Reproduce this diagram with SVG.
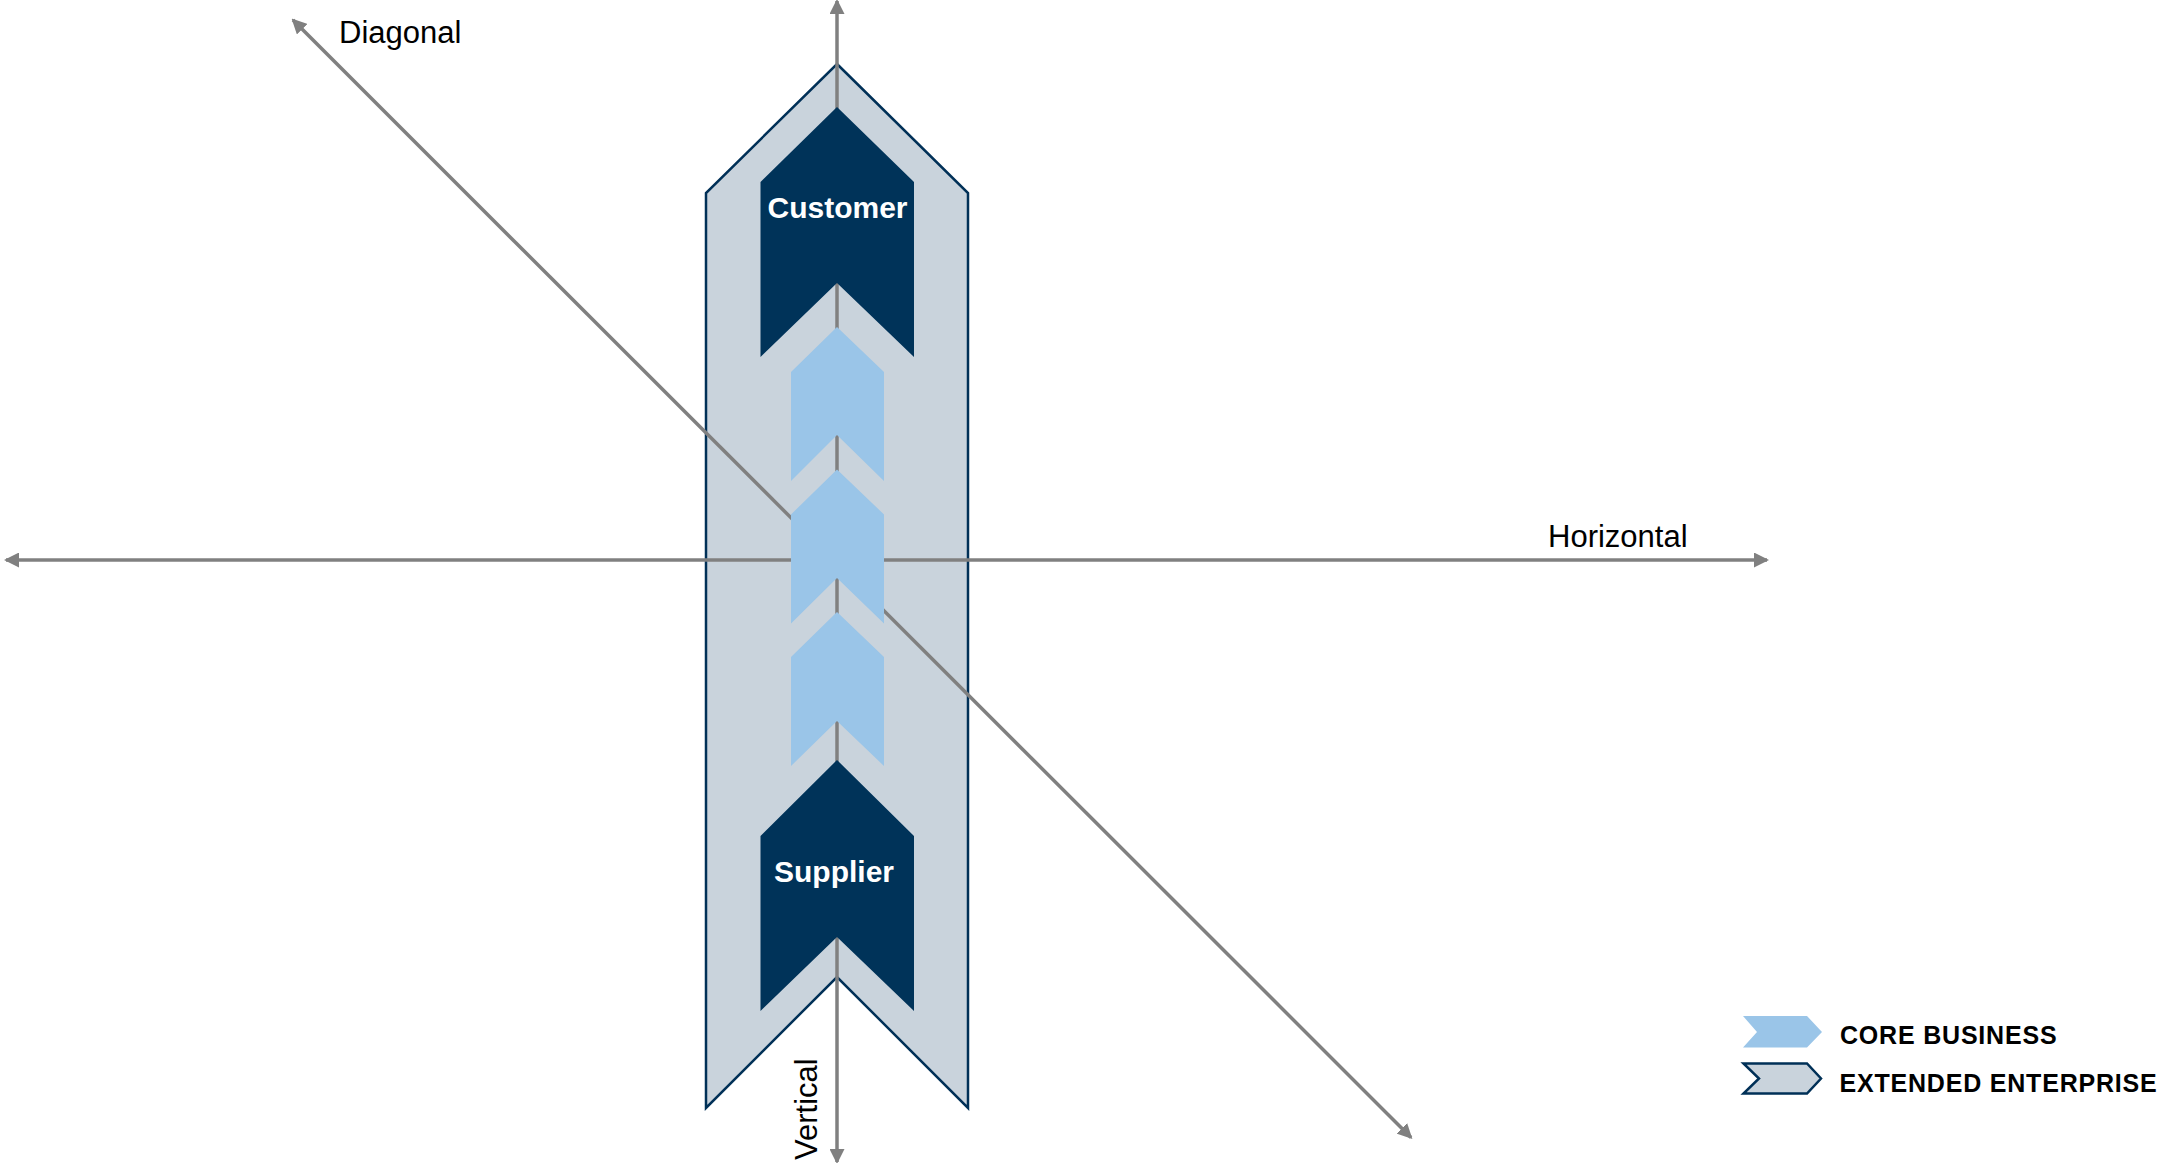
<svg xmlns="http://www.w3.org/2000/svg" width="2162" height="1163" viewBox="0 0 2162 1163">
<style>
.ext{fill:#C9D3DC;stroke:#003057;stroke-width:2.5;stroke-linejoin:miter}
.dark{fill:#003359}
.core{fill:#9AC5E8}
.axis{stroke:#808080;stroke-width:3.5;fill:none}
.lbl{font-family:"Liberation Sans",Arial,sans-serif;font-size:31px;fill:#000}
.nodelbl{font-family:"Liberation Sans",Arial,sans-serif;font-size:30px;font-weight:bold;fill:#fff;text-anchor:middle}
.leg{font-family:"Liberation Sans",Arial,sans-serif;font-size:25px;font-weight:bold;fill:#000;letter-spacing:0.8px}
</style>
<defs>
<marker id="ah" viewBox="0 0 15 15" refX="13" refY="7.5" markerWidth="15" markerHeight="15" markerUnits="userSpaceOnUse" orient="auto-start-reverse">
<path d="M0,0 L15,7.5 L0,15 z" fill="#808080"/>
</marker>
</defs>
<rect width="2162" height="1163" fill="#fff"/>
<g id="extended-enterprise">
<polygon class="ext" points="837,64 968,193 968,1108 837,977 706,1108 706,193"/>
</g>
<g id="connectors">
<line class="axis" x1="837" y1="1162" x2="837" y2="1" marker-start="url(#ah)" marker-end="url(#ah)"/>
<line class="axis" x1="1767" y1="560" x2="6" y2="560" marker-start="url(#ah)" marker-end="url(#ah)"/>
<line class="axis" x1="1411" y1="1137.5" x2="293" y2="20" marker-start="url(#ah)" marker-end="url(#ah)"/>
</g>
<g id="customer">
<polygon class="dark" points="837,107 914,182 914,357 837,283 760.5,357 760.5,182"/>
<text class="nodelbl" x="837.5" y="218">Customer</text>
</g>
<g id="core1">
<polygon class="core" points="837,327 884,372 884,481 837,435 791,481 791,372"/>
</g>
<g id="core2">
<polygon class="core" points="837,469.5 884,514.5 884,623.5 837,578 791,623.5 791,514.5"/>
</g>
<g id="core3">
<polygon class="core" points="837,612 884,657 884,766 837,721 791,766 791,657"/>
</g>
<g id="supplier">
<polygon class="dark" points="837,760 914,836 914,1011 837,937 760.5,1011 760.5,836"/>
<text class="nodelbl" x="834" y="881.5">Supplier</text>
</g>
<g id="axis-labels">
<text class="lbl" x="339" y="42.5">Diagonal</text>
<text class="lbl" x="1548" y="546.5">Horizontal</text>
<text class="lbl" transform="translate(816.5,1160) rotate(-90)">Vertical</text>
</g>
<g id="legend">
<polygon class="core" points="1743,1016 1807,1016 1822,1032 1807,1047.5 1743,1047.5 1757,1032"/>
<text class="leg" x="1840" y="1044.3">CORE BUSINESS</text>
<polygon class="ext" stroke-width="2" points="1743.5,1063.5 1807,1063.5 1821,1078.5 1807,1093.5 1743.5,1093.5 1759,1078.5"/>
<text class="leg" x="1839.5" y="1091.7">EXTENDED ENTERPRISE</text>
</g>
</svg>
